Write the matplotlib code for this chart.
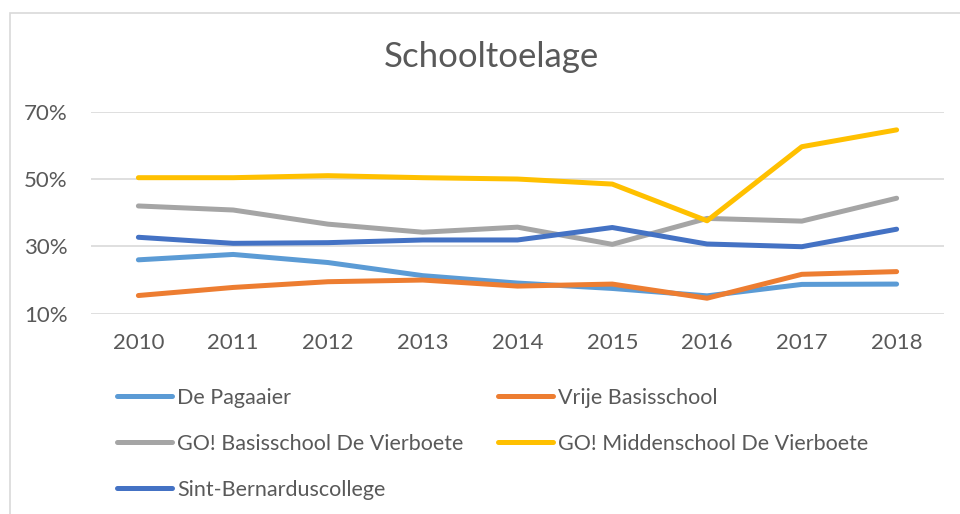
import matplotlib
matplotlib.use("Agg")
import matplotlib.pyplot as plt
from matplotlib.patches import Rectangle
from matplotlib.ticker import FuncFormatter

years = ["2010", "2011", "2012", "2013", "2014", "2015", "2016", "2017", "2018"]
de_pagaaier = [26.0, 27.6, 25.2, 21.3, 19.1, 17.5, 15.3, 18.7, 18.8]
vrije_basisschool = [15.4, 17.8, 19.5, 20.0, 18.2, 18.8, 14.6, 21.7, 22.5]
go_basisschool = [42.0, 40.8, 36.6, 34.2, 35.7, 30.6, 38.3, 37.5, 44.3]
go_middenschool = [50.4, 50.4, 51.0, 50.4, 50.0, 48.5, 37.6, 59.6, 64.6]
sint_bernardus = [32.7, 30.9, 31.1, 31.9, 31.9, 35.6, 30.7, 29.9, 35.1]

names = ["De Pagaaier", "Vrije Basisschool", "GO! Basisschool De Vierboete",
         "GO! Middenschool De Vierboete", "Sint-Bernarduscollege"]
series = [de_pagaaier, vrije_basisschool, go_basisschool, go_middenschool, sint_bernardus]
colors = ["#5B9BD5", "#ED7D31", "#A5A5A5", "#FFC000", "#4472C4"]
yticks = [10, 30, 50, 70]

plt.rcParams['font.family'] = ['Lato', 'DejaVu Sans']
W, H = 960, 514
fig = plt.figure(figsize=(W / 100, H / 100), dpi=100)
fig.patch.set_facecolor("white")

# chart border
fig.patches.append(Rectangle((10 / W, -0.2), 1.5, 1.2 - 13 / H, transform=fig.transFigure,
                             fill=False, edgecolor="#D9D9D9", linewidth=1.2, zorder=0))

ax = fig.add_axes([91 / W, 1 - 313.7 / H, (944 - 91) / W, (313.7 - 111.7) / H])
x = list(range(len(years)))
handles = []
for vals, name, c in zip(series, names, colors):
    h, = ax.plot(x, vals, color=c, lw=3.6, solid_capstyle="round", solid_joinstyle="round",
                 label=name, zorder=3)
    handles.append(h)

ax.set_xlim(-0.5, len(years) - 0.5)
ax.set_ylim(10, 70)
ax.set_yticks(yticks)
ax.yaxis.set_major_formatter(FuncFormatter(lambda v, p: f"{v:.0f}%"))
ax.set_xticks(x)
ax.set_xticklabels(years)
ax.grid(axis="y", color="#D9D9D9", lw=1.2, zorder=0)
ax.set_axisbelow(True)
for s in ax.spines.values():
    s.set_visible(False)
ax.tick_params(axis="both", length=0, labelsize=16, labelcolor="#595959")
ax.tick_params(axis="y", pad=17)
ax.tick_params(axis="x", pad=14)

fig.text(491 / W, 1 - 57 / H, "Schooltoelage", ha="center", va="center",
         fontsize=25, color="#595959")

common = dict(frameon=False, fontsize=15.5, handlelength=2.55, handletextpad=0.24,
              labelspacing=1.2, borderpad=0, borderaxespad=0, loc="upper left",
              labelcolor="#595959")
leg1 = fig.legend([handles[0], handles[2], handles[4]], [names[0], names[2], names[4]],
                  bbox_to_anchor=(117 / W, 1 - 388 / H), **common)
leg2 = fig.legend([handles[1], handles[3]], [names[1], names[3]],
                  bbox_to_anchor=(498 / W, 1 - 388 / H), **common)
for leg in (leg1, leg2):
    for ln in leg.get_lines():
        ln.set_linewidth(3.6)
        ln.set_solid_capstyle("round")

fig.savefig("out.png", dpi=100)
